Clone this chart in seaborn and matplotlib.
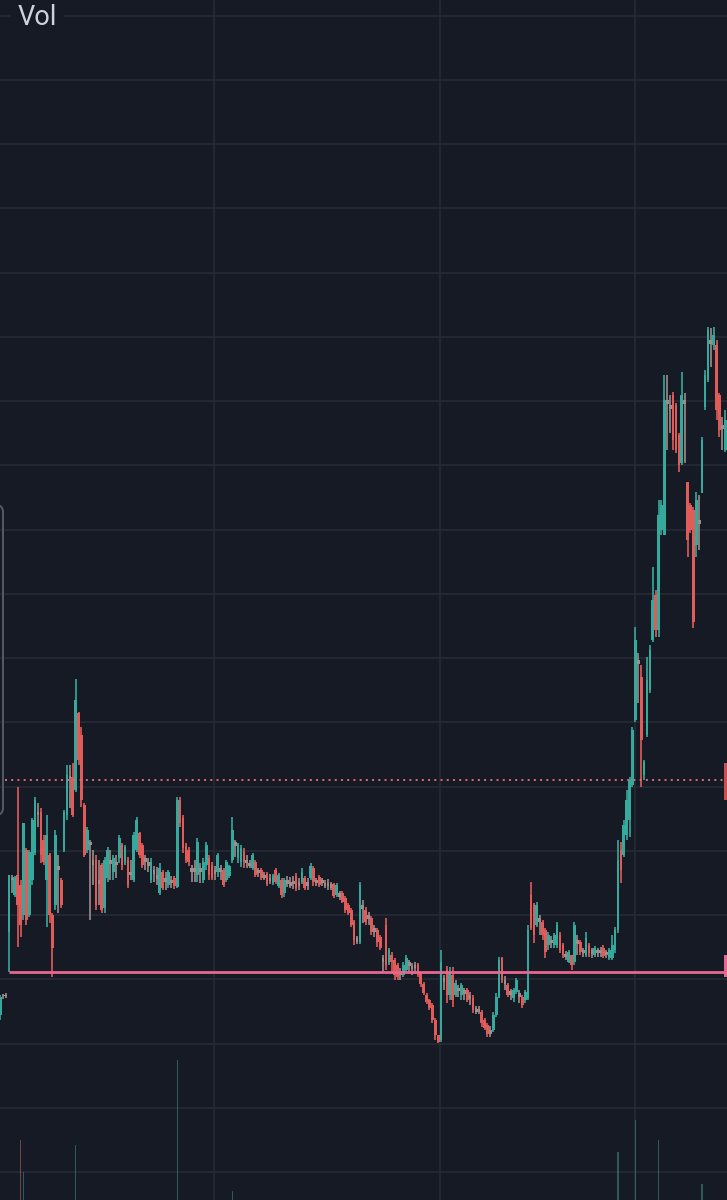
import numpy as np
import pandas as pd
import matplotlib
matplotlib.use("Agg")
import matplotlib.pyplot as plt
import seaborn as sns
from matplotlib.patches import FancyBboxPatch, Rectangle
from matplotlib.transforms import IdentityTransform

# ---------------- data (price units, arbitrary scale) ----------------
# three partial candles at the left edge, then the main series
opens = [185, 204, 205,
    268, 320, 305, 325, 315, 285, 350, 285, 320, 347,
    385, 388, 360, 320, 345, 285, 295, 330, 320, 350,
    385, 422, 423, 410, 487, 465, 395, 350, 358, 340,
    340, 320, 335, 292, 322, 340, 328, 335, 342, 355,
    338, 340, 328, 320, 350, 367, 355, 342, 338, 320,
    330, 325, 307, 328, 322, 315, 320, 322, 313, 400,
    382, 354, 350, 332, 328, 325, 332, 320, 335, 342,
    335, 330, 328, 332, 330, 320, 324, 340, 358, 342,
    338, 348, 340, 337, 332, 338, 330, 330, 325, 326,
    322, 317, 330, 314, 320, 307, 320, 318, 316, 324,
    318, 318, 322, 318, 322, 332, 320, 323, 320, 317,
    314, 316, 316, 305, 307, 307, 302, 295, 290, 278,
    262, 258, 295, 290, 285, 282, 272, 270, 263, 242,
    275, 238, 245, 240, 235, 228, 225, 230, 238, 234,
    232, 235, 227, 216, 205, 200, 195, 180, 165, 160,
    222, 230, 205, 225, 205, 212, 205, 210, 210, 205,
    202, 192, 191, 188, 180, 175, 170, 170, 185, 203,
    242, 220, 215, 209, 202, 208, 207, 203, 200, 202,
    305, 295, 275, 282, 278, 270, 255, 260, 255, 255,
    265, 255, 246, 238, 245, 238, 260, 258, 250, 245,
    255, 250, 245, 250, 250, 252, 248, 242, 242, 250,
    270, 350, 345, 365, 380, 415, 480, 540, 523, 425,
    465, 510, 560, 605, 570, 670, 665, 800, 795, 805,
    795, 765, 737, 800, 718, 695, 690, 655, 680, 707,
    793, 820, 860, 855, 855, 805, 775, 750]

highs = [205, 206, 207,
    325, 325, 324, 413, 320, 377, 352, 350, 382, 403,
    397, 392, 365, 385, 347, 287, 370, 345, 322, 390,
    435, 435, 437, 521, 488, 473, 397, 373, 360, 350,
    345, 340, 337, 343, 353, 350, 345, 345, 365, 357,
    355, 343, 340, 368, 383, 368, 357, 345, 342, 342,
    334, 333, 337, 330, 328, 330, 324, 324, 403, 403,
    385, 357, 353, 335, 340, 362, 337, 342, 358, 345,
    338, 334, 347, 335, 332, 340, 335, 383, 360, 357,
    355, 352, 345, 340, 347, 340, 332, 332, 328, 328,
    326, 326, 332, 327, 322, 322, 324, 323, 324, 327,
    322, 332, 324, 322, 337, 334, 322, 325, 322, 320,
    321, 318, 317, 317, 309, 309, 304, 297, 292, 280,
    264, 318, 300, 293, 288, 284, 275, 272, 265, 245,
    282, 252, 248, 242, 237, 232, 238, 245, 240, 237,
    238, 237, 228, 218, 207, 201, 197, 182, 165, 250,
    225, 234, 233, 233, 220, 215, 217, 212, 212, 208,
    205, 194, 194, 190, 182, 177, 174, 188, 207, 243,
    243, 224, 217, 211, 212, 222, 210, 205, 210, 275,
    318, 297, 298, 285, 280, 272, 268, 264, 267, 278,
    268, 257, 249, 250, 245, 278, 265, 260, 252, 268,
    257, 252, 254, 252, 253, 255, 250, 252, 265, 273,
    360, 358, 380, 410, 423, 473, 573, 547, 535, 440,
    543, 555, 633, 610, 700, 700, 825, 825, 805, 808,
    797, 767, 828, 807, 718, 697, 693, 708, 705, 763,
    830, 873, 872, 873, 860, 807, 783, 790]

lows = [180, 201, 202,
    228, 307, 303, 253, 263, 280, 275, 283, 315, 345,
    373, 337, 335, 273, 277, 223, 290, 287, 292, 348,
    380, 392, 383, 408, 435, 393, 343, 347, 280, 315,
    290, 295, 287, 287, 318, 320, 320, 322, 337, 330,
    335, 312, 320, 318, 348, 342, 332, 330, 328, 317,
    318, 315, 305, 310, 310, 312, 312, 311, 312, 373,
    347, 337, 334, 318, 318, 318, 317, 317, 330, 320,
    320, 320, 323, 320, 313, 318, 322, 337, 343, 337,
    333, 332, 332, 332, 330, 323, 323, 320, 320, 314,
    316, 315, 316, 312, 302, 303, 313, 312, 311, 309,
    310, 316, 310, 310, 320, 314, 314, 313, 314, 312,
    310, 310, 302, 303, 300, 297, 287, 285, 273, 255,
    256, 256, 277, 275, 275, 265, 263, 253, 250, 228,
    230, 235, 228, 220, 220, 220, 223, 227, 227, 225,
    226, 223, 213, 205, 196, 190, 177, 160, 157, 158,
    210, 197, 200, 193, 203, 203, 200, 200, 198, 195,
    187, 186, 186, 173, 170, 163, 163, 168, 183, 202,
    217, 210, 203, 200, 198, 206, 197, 192, 197, 200,
    270, 257, 273, 265, 260, 242, 250, 252, 252, 252,
    247, 242, 240, 237, 230, 235, 245, 245, 243, 243,
    243, 242, 243, 243, 243, 242, 242, 240, 240, 247,
    267, 317, 343, 360, 363, 413, 478, 497, 413, 420,
    463, 507, 558, 563, 563, 665, 665, 750, 767, 750,
    747, 728, 735, 737, 643, 667, 572, 643, 650, 707,
    790, 818, 833, 850, 780, 763, 750, 748]

closes = [203, 205, 204,
    325, 322, 323, 295, 275, 377, 280, 348, 380, 400,
    388, 345, 338, 365, 285, 252, 365, 334, 295, 388,
    425, 424, 385, 500, 440, 400, 345, 370, 355, 335,
    295, 316, 290, 340, 350, 336, 342, 338, 362, 335,
    353, 315, 325, 365, 380, 345, 335, 338, 334, 338,
    326, 321, 332, 312, 318, 328, 317, 314, 400, 377,
    352, 340, 338, 328, 332, 358, 328, 338, 355, 325,
    322, 326, 345, 328, 315, 338, 334, 370, 354, 355,
    352, 338, 337, 334, 345, 325, 327, 322, 322, 316,
    319, 324, 318, 325, 305, 320, 316, 314, 319, 312,
    314, 328, 312, 314, 334, 318, 317, 315, 317, 314,
    317, 312, 304, 315, 303, 298, 290, 287, 275, 260,
    258, 315, 291, 278, 281, 268, 268, 258, 252, 238,
    235, 250, 238, 225, 223, 225, 235, 242, 234, 231,
    235, 225, 216, 207, 198, 192, 180, 165, 158, 238,
    218, 205, 228, 200, 217, 209, 215, 206, 200, 201,
    190, 188, 188, 177, 172, 166, 166, 185, 203, 240,
    220, 216, 205, 205, 210, 220, 203, 195, 208, 270,
    272, 265, 295, 278, 265, 248, 265, 257, 265, 275,
    250, 245, 243, 248, 235, 275, 256, 248, 247, 262,
    247, 246, 252, 247, 247, 244, 245, 250, 255, 270,
    340, 330, 375, 400, 420, 470, 560, 536, 460, 438,
    520, 550, 600, 570, 685, 695, 800, 796, 791, 760,
    750, 735, 805, 796, 660, 670, 578, 700, 676, 760,
    825, 870, 856, 865, 790, 770, 771, 780]

# volume bars that reach into view (candle index, volume)
vol_index = [7, 8, 26, 61, 80, 213, 219, 227, 242]
vol_values = [60, 28, 55, 140, 9, 48, 80, 60, 16]

support_level = 228        # horizontal ray (pink)
alert_level = 420          # dotted price line
support_start = 3          # candle index where the ray starts
time_grid = [73.7, 151.6, 218.9]   # vertical time gridlines (candle index)

# ---------------- style ----------------
BG = "#161a25"
GRID = "#262b37"
TEAL = "#35a99b"
RED = "#e15c58"
GREY = "#a08c8a"

sns.set_theme(style="dark", rc={"axes.facecolor": BG, "figure.facecolor": BG,
                                "savefig.facecolor": BG})
plt.rcParams["font.family"] = ["Roboto", "DejaVu Sans"]

df = pd.DataFrame({"open": opens, "high": highs, "low": lows, "close": closes})
df["idx"] = np.arange(len(df))
diff = df["close"] - df["open"]
df["dir"] = np.where(diff.abs() <= 5, "flat", np.where(diff > 0, "up", "down"))
palette = {"up": TEAL, "down": RED, "flat": GREY}
colors = df["dir"].map(palette)

W, H = 727, 1200
fig = plt.figure(figsize=(W / 100, H / 100), dpi=100)
ax = fig.add_axes([0, 0, 1, 1])
ax.set_facecolor(BG)

step_px = 2.9
x_lo = support_start - 9 / step_px
x_hi = x_lo + W / step_px

# grid
ax.set_yticks(np.arange(28, 1200, 64.25))
ax.set_xticks(time_grid)
ax.grid(True, color=GRID, lw=1.1)
ax.tick_params(length=0, labelleft=False, labelbottom=False)
for s in ax.spines.values():
    s.set_visible(False)

# volume on a twin axis
axv = ax.twinx()
vdf = pd.DataFrame({"idx": vol_index, "volume": vol_values})
vdf["dir"] = np.where(df.loc[vol_index, "close"].values >= df.loc[vol_index, "open"].values,
                      "up", "down")
sns.barplot(data=vdf, x="idx", y="volume", hue="dir", palette={"up": TEAL, "down": RED},
            native_scale=True, width=0.45, dodge=False, legend=False, errorbar=None,
            alpha=0.5, ax=axv, linewidth=0)
axv.set_ylim(0, H)
axv.set_axis_off()

# candles
ax.vlines(df["idx"], df["low"], df["high"], colors=colors, lw=1.2, zorder=3)
body_bottom = df[["open", "close"]].min(axis=1)
body_height = (df["close"] - df["open"]).abs().clip(lower=1.5)
ax.bar(df["idx"], body_height, bottom=body_bottom, width=0.95, color=colors,
       linewidth=0, zorder=4)

# price lines
ax.hlines(alert_level, x_lo + 5 / step_px, x_hi, colors="#e06a72", lw=1.4,
          linestyles=(0, (1, 2.2)), zorder=5)
ax.hlines(support_level, support_start, x_hi, colors="#e8668f", lw=2.0, zorder=5)

ax.set_xlim(x_lo, x_hi)
ax.set_ylim(0, H)
axv.set_xlim(x_lo, x_hi)

# left-edge panel outline and right-edge label stubs
fig.add_artist(FancyBboxPatch((-20, H - 815), 23, 310,
                              boxstyle="round,pad=0,rounding_size=7",
                              transform=IdentityTransform(), fc="none",
                              ec="#555a66", lw=1.4))
fig.add_artist(Rectangle((724, H - 800), 6, 37, transform=IdentityTransform(),
                         fc="#c9504f", ec="none"))
fig.add_artist(Rectangle((724, H - 977), 6, 22, transform=IdentityTransform(),
                         fc="#e8668f", ec="none"))

fig.text(18 / W, 1 - 25 / H, "Vol", fontsize=19.5, color="#cfd2d9", va="baseline",
         ha="left", bbox=dict(fc=BG, ec="none", pad=5))

fig.savefig("out.png", dpi=100, facecolor=BG)
